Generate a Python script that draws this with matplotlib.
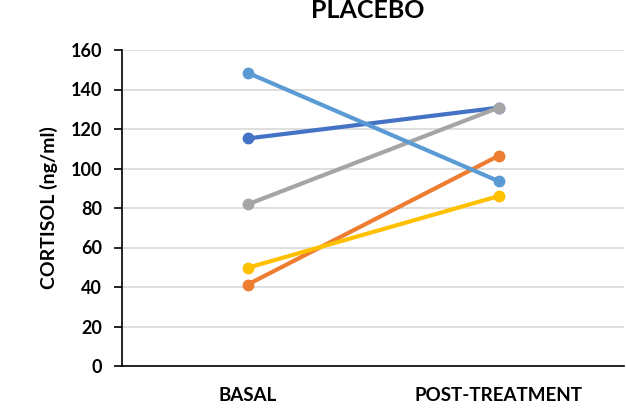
import matplotlib
matplotlib.use("Agg")
import matplotlib.pyplot as plt

plt.rcParams['font.family'] = ['Lato', 'DejaVu Sans']

categories = ["BASAL", "POST-TREATMENT"]
subject_1 = [115.2, 130.8]
subject_2 = [41.2, 106.4]
subject_3 = [81.8, 130.8]
subject_4 = [49.7, 86.0]
subject_5 = [148.5, 93.6]
series = [subject_1, subject_2, subject_3, subject_4, subject_5]
colors = ["#4472C4", "#ED7D31", "#A5A5A5", "#FFC000", "#5B9BD5"]
yticks = [0, 20, 40, 60, 80, 100, 120, 140, 160]

fig = plt.figure(figsize=(6.26, 4.08), dpi=100)
ax = fig.add_axes([122 / 626, 1 - 366 / 408, 502 / 626, 316 / 408])

x = list(range(len(categories)))
for vals, c in zip(series, colors):
    ax.plot(x, vals, color=c, linewidth=3.0, marker='o', markersize=7.5,
            solid_capstyle='round', zorder=3)

ax.set_xlim(-0.5, 1.5)
ax.set_ylim(0, 160)
ax.set_yticks(yticks)
ax.set_yticklabels([str(v) for v in yticks], fontsize=13, fontweight='bold')
ax.set_xticks(x)
ax.set_xticklabels(categories, fontsize=13.5, fontweight='bold')
ax.tick_params(axis='x', length=0, pad=15)
ax.tick_params(axis='y', length=6, width=1.2, direction='out', pad=8.5)
ax.yaxis.grid(True, color='#D9D9D9', linewidth=1.2, zorder=0)
ax.set_axisbelow(True)

for s in ['top', 'right']:
    ax.spines[s].set_visible(False)
for s in ['left', 'bottom']:
    ax.spines[s].set_color('black')
    ax.spines[s].set_linewidth(1.2)

ax.set_ylabel("CORTISOL (ng/ml)", fontsize=14, fontweight='bold', labelpad=9)
fig.text(368 / 626, 1 - 18.5 / 408, "PLACEBO", ha='center', va='baseline',
         fontsize=18, fontweight='bold')

fig.savefig("out.png", dpi=100)
